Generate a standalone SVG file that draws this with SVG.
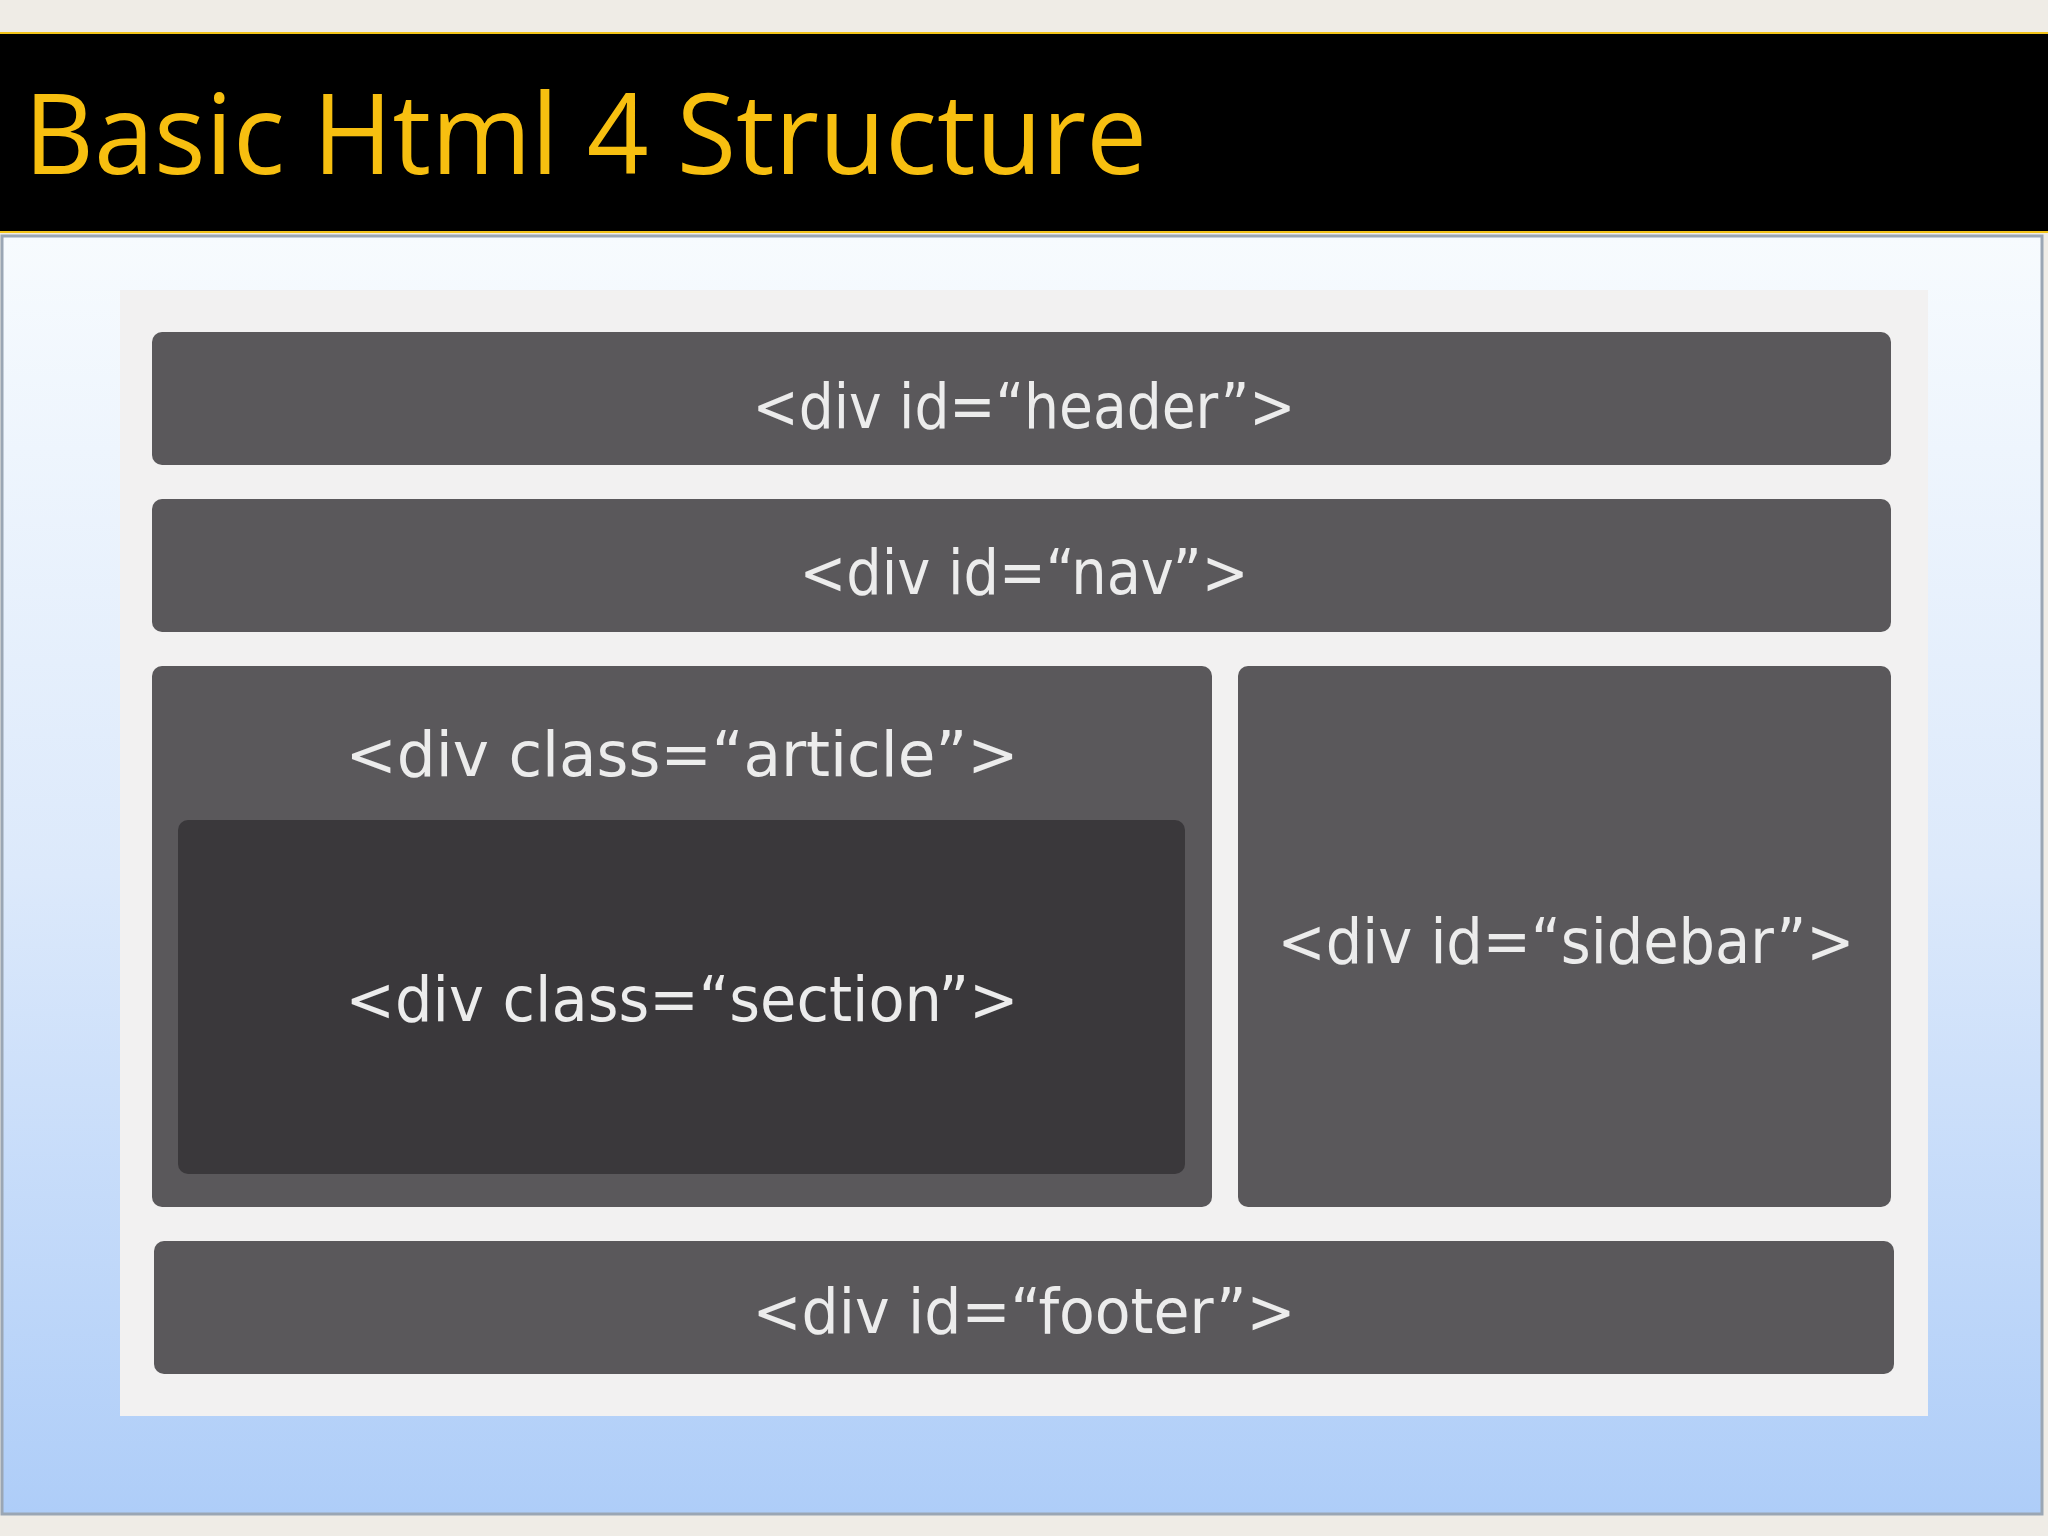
<svg xmlns="http://www.w3.org/2000/svg" width="2048" height="1536" viewBox="0 0 2048 1536">
<defs>
<linearGradient id="bg" x1="0" y1="0" x2="0" y2="1">
<stop offset="0" stop-color="#f7fbfe"/><stop offset="0.5" stop-color="#dce9fb"/><stop offset="1" stop-color="#aecdf8"/>
</linearGradient>
<style>
.box{fill:#5a585b}
.lbl{fill:#ececec;font-family:"DejaVu Sans Condensed","DejaVu Sans",sans-serif;font-size:62px;text-anchor:middle}
</style>
</defs>
<rect width="2048" height="1536" fill="#efece6"/>
<rect x="0" y="33" width="2048" height="199" fill="#000"/>
<line x1="0" y1="33" x2="2048" y2="33" stroke="#f2c419" stroke-width="2"/>
<line x1="0" y1="232" x2="2048" y2="232" stroke="#f2c419" stroke-width="2"/>
<text x="24" y="174" font-family="'Open Sans',sans-serif" font-size="112" fill="#f7bf10" textLength="1123" lengthAdjust="spacingAndGlyphs">Basic Html 4 Structure</text>
<rect x="2" y="236" width="2040" height="1278" fill="url(#bg)" stroke="#9aa6b4" stroke-width="3"/>
<rect x="120" y="290" width="1808" height="1126" fill="#f2f1f1"/>
<g id="header"><rect class="box" x="152" y="332" width="1739" height="133" rx="10"/><text class="lbl" x="1024" y="428" textLength="543" lengthAdjust="spacingAndGlyphs">&lt;div id=“header”&gt;</text></g>
<g id="nav"><rect class="box" x="152" y="499" width="1739" height="133" rx="10"/><text class="lbl" x="1024" y="594" textLength="449" lengthAdjust="spacingAndGlyphs">&lt;div id=“nav”&gt;</text></g>
<g id="article"><rect class="box" x="152" y="666" width="1060" height="541" rx="10"/><text class="lbl" x="682" y="776" textLength="673" lengthAdjust="spacingAndGlyphs">&lt;div class=“article”&gt;</text></g>
<g id="section"><rect x="178" y="820" width="1007" height="354" rx="10" fill="#3a383b"/><text class="lbl" x="682" y="1021" textLength="673" lengthAdjust="spacingAndGlyphs">&lt;div class=“section”&gt;</text></g>
<g id="sidebar"><rect class="box" x="1238" y="666" width="653" height="541" rx="10"/><text class="lbl" x="1566" y="963" textLength="577" lengthAdjust="spacingAndGlyphs">&lt;div id=“sidebar”&gt;</text></g>
<g id="footer"><rect class="box" x="154" y="1241" width="1740" height="133" rx="10"/><text class="lbl" x="1024" y="1333" textLength="543" lengthAdjust="spacingAndGlyphs">&lt;div id=“footer”&gt;</text></g>
<g id="connectors"/>
</svg>
